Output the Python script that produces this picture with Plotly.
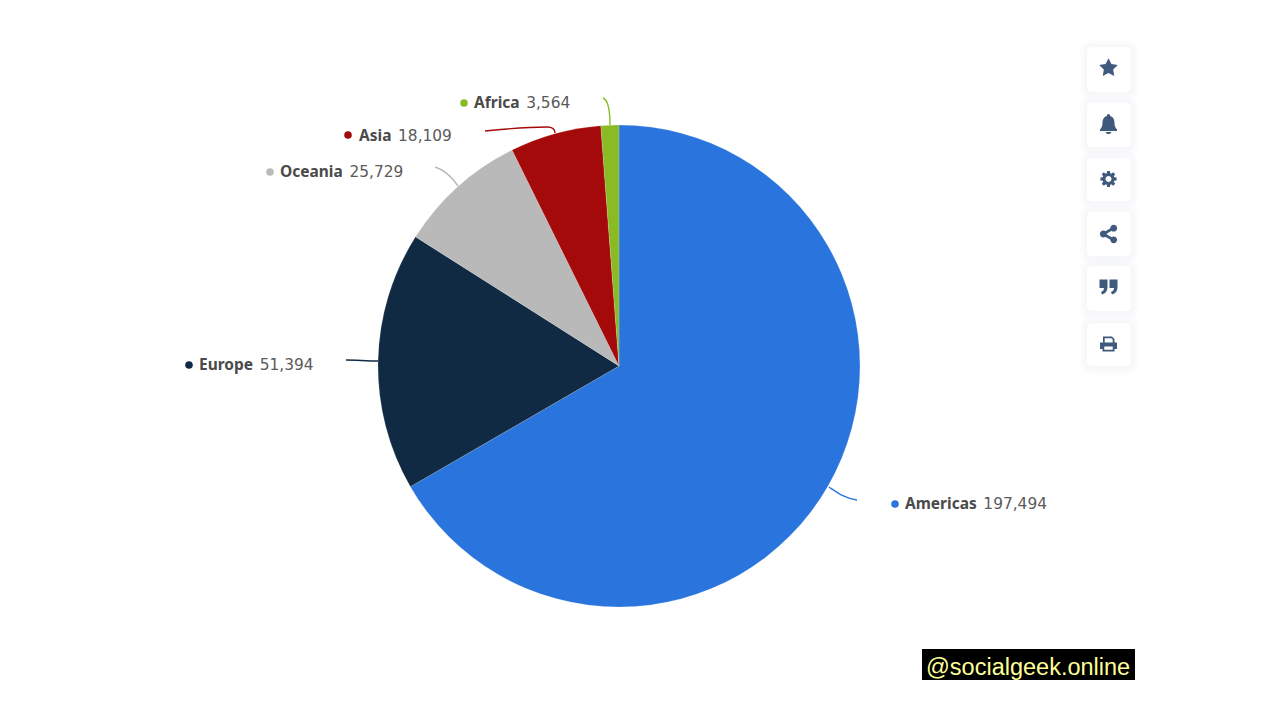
import re
import math
import plotly.graph_objects as go

# ---- data ----
categories = ["Americas", "Europe", "Oceania", "Asia", "Africa"]
values = [197494, 51394, 25729, 18109, 3564]
colors = ["#2a75dd", "#0f2a42", "#b9b9b9", "#a50a0a", "#8aba24"]
watermark = "@socialgeek.online"

# ---- layout helpers (pixel geometry of the 1280x720 page) ----
W, H = 1280, 720
CX, CY, R = 619, 366, 241


def px(x):
    return x / W


def py(y):
    return 1 - y / H


def path(local, ox=0, oy=0):
    def rep(m):
        return f"{px(float(m.group(1)) + ox):.5f},{py(float(m.group(2)) + oy):.5f}"
    return re.sub(r"(-?\d+\.?\d*),(-?\d+\.?\d*)", rep, local)


def circle(cx, cy, r):
    k = 0.5523 * r
    return (f"M{cx + r},{cy} C{cx + r},{cy + k} {cx + k},{cy + r} {cx},{cy + r} "
            f"C{cx - k},{cy + r} {cx - r},{cy + k} {cx - r},{cy} "
            f"C{cx - r},{cy - k} {cx - k},{cy - r} {cx},{cy - r} "
            f"C{cx + k},{cy - r} {cx + r},{cy - k} {cx + r},{cy} Z ")


def rrect(x0, y0, x1, y1, r):
    return (f"M{x0 + r},{y0} L{x1 - r},{y0} Q{x1},{y0} {x1},{y0 + r} L{x1},{y1 - r} "
            f"Q{x1},{y1} {x1 - r},{y1} L{x0 + r},{y1} Q{x0},{y1} {x0},{y1 - r} "
            f"L{x0},{y0 + r} Q{x0},{y0} {x0 + r},{y0} Z ")


def star_path(ro=9.8, ri=4.9):
    pts = []
    for i in range(10):
        a = -math.pi / 2 + i * math.pi / 5
        r = ro if i % 2 == 0 else ri
        pts.append(f"{r * math.cos(a):.2f},{r * math.sin(a):.2f}")
    return "M" + " L".join(pts) + " Z"


def gear_path():
    pts = []
    n = 8
    for i in range(n):
        base = 2 * math.pi * i / n
        for da, r in [(-0.30, 6.0), (-0.17, 8.2), (0.17, 8.2), (0.30, 6.0)]:
            a = base + da
            pts.append(f"{r * math.cos(a):.2f},{r * math.sin(a):.2f}")
    return "M" + " L".join(pts) + " Z " + circle(0, 0, 3.0)


ICON = "#3f5a7d"
bell = ("M0,-10 C1.2,-10 1.8,-9 1.6,-8 C5,-7 6,-4 6,-1 C6,2 7,4 8.5,5.5 L8.5,7 L-8.5,7 L-8.5,5.5 "
        "C-7,4 -6,2 -6,-1 C-6,-4 -5,-7 -1.6,-8 C-1.8,-9 -1.2,-10 0,-10 Z "
        "M-2.8,8 L2.8,8 C2.5,10.8 -2.5,10.8 -2.8,8 Z")
share = [circle(5.2, -5.8, 3.4), circle(-5.2, 0, 3.4), circle(5.2, 5.8, 3.4),
         "M-5.8,-1.3 L4.7,-7.2 L5.9,-4.8 L-4.6,1.2 Z", "M-4.6,-1.2 L5.9,4.8 L4.7,7.2 L-5.8,1.3 Z"]
quotes = ("M-9,-7.5 L-1,-7.5 L-1,0 C-1,4 -3,6.5 -6.5,7.5 L-7.5,5 C-5.5,4.3 -4.5,3 -4.5,1 L-9,1 Z "
          "M1,-7.5 L9,-7.5 L9,0 C9,4 7,6.5 3.5,7.5 L2.5,5 C4.5,4.3 5.5,3 5.5,1 L1,1 Z")
printer = ("M-5.5,-7.5 L3.5,-7.5 L6,-5 L6,-1.5 L8.5,-1.5 L8.5,5 L6,5 L6,7.5 L-6,7.5 L-6,5 L-8.5,5 L-8.5,-1.5 L-5.5,-1.5 Z "
           "M-3.8,-5.8 L-3.8,-1.5 L4.2,-1.5 L4.2,-4.5 L2.9,-5.8 Z "
           "M-4.2,2.6 L-4.2,5.8 L4.2,5.8 L4.2,2.6 Z")

buttons = [
    (47, 92, [star_path()], 68),
    (103, 147, [bell], 124),
    (158, 201, [gear_path()], 179),
    (212, 256, share, 234),
    (266, 311, [quotes], 287),
    (323, 366, [printer], 344),
]

label_pos = [(905, 503), (199, 364), (280, 171), (359, 135), (474, 102)]
dot_pos = [(895, 504), (189, 365), (270, 172), (348, 135), (464, 103)]
connectors = [
    "M829,487 C838,493 846,499 857,500",
    "M346,360 C356,360 367,361 378,361",
    "M435,167 C445,170 452,177 458,186",
    "M485,131 C505,129 530,127 547,127 C552,127 555,129 555,133",
    "M603,98 C608,100 610,110 610,125",
]

shapes = []
for (y0, y1, icon, cy) in buttons:
    for grow, alpha in [(8, 0.006), (6, 0.008), (4, 0.010), (2, 0.012)]:
        shapes.append(dict(type="path", xref="paper", yref="paper",
                           path=path(rrect(1087 - grow, y0 - grow + 1, 1131 + grow, y1 + grow + 1, 5 + grow)),
                           fillcolor=f"rgba(40,60,90,{alpha})", line_width=0, layer="below"))
    shapes.append(dict(type="path", xref="paper", yref="paper", path=path(rrect(1087, y0, 1131, y1, 5)),
                       fillcolor="#ffffff", line_width=0, layer="below"))
    for piece in icon:
        shapes.append(dict(type="path", xref="paper", yref="paper", path=path(piece, 1108.5, cy),
                           fillcolor=ICON, line_width=0))

for c, col in zip(connectors, colors):
    shapes.append(dict(type="path", xref="paper", yref="paper", path=path(c),
                       line=dict(color=col, width=1.4)))

for (x, y), col in zip(dot_pos, colors):
    shapes.append(dict(type="circle", xref="paper", yref="paper",
                       x0=px(x - 3.8), x1=px(x + 3.8), y0=py(y + 3.8), y1=py(y - 3.8),
                       fillcolor=col, line_width=0))

# watermark box
shapes.append(dict(type="rect", xref="paper", yref="paper", x0=px(922), x1=px(1135), y0=py(680), y1=py(649),
                   fillcolor="#000000", line_width=0))

annotations = []
for (x, y), name, val in zip(label_pos, categories, values):
    annotations.append(dict(
        x=px(x), y=py(y), xref="paper", yref="paper", xanchor="left", yanchor="middle",
        showarrow=False, borderpad=0, borderwidth=0,
        text=(f"<b>{name}</b>\u2009 <span style='color:#5a5a5a;font-family:DejaVu Sans;"
              f"font-size:15.4px'>{val:,}</span>"),
        font=dict(family="Noto Sans", size=15.5, color="#4a4a4a"),
    ))
annotations.append(dict(
    x=px(1028), y=py(666.5), xref="paper", yref="paper", xanchor="center", yanchor="middle",
    showarrow=False, borderpad=0, borderwidth=0, text=watermark,
    font=dict(family="Liberation Sans", size=23.5, color="#ffff99"),
))

fig = go.Figure(go.Pie(
    labels=categories,
    values=values,
    sort=False,
    direction="clockwise",
    rotation=0,
    textinfo="none",
    marker=dict(colors=colors, line=dict(color="rgba(255,255,255,0.4)", width=0.4)),
    domain=dict(x=[px(CX - R), px(CX + R)], y=[py(CY + R), py(CY - R)]),
    showlegend=False,
))
fig.update_layout(
    width=W, height=H,
    margin=dict(l=0, r=0, t=0, b=0),
    paper_bgcolor="#ffffff",
    shapes=shapes,
    annotations=annotations,
)
fig.write_html("out.html", config=dict(displayModeBar=False),
               post_script="document.body.style.margin='0';")
